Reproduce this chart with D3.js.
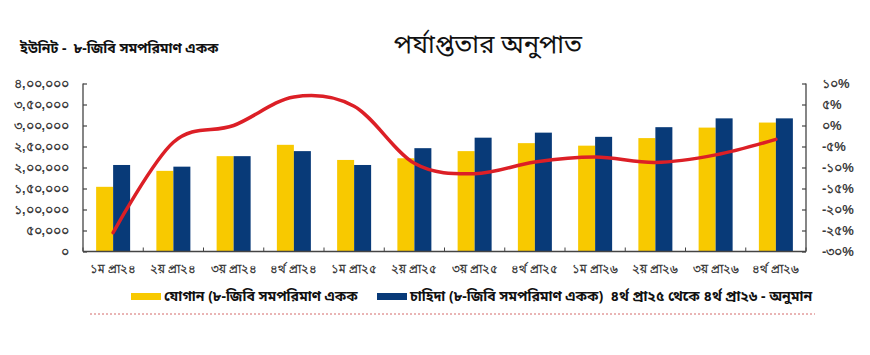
<!DOCTYPE html>
<html><head><meta charset="utf-8">
<script src="https://cdn.jsdelivr.net/npm/d3@7"></script>
<style>
body{margin:0;background:#fff;}
svg{display:block;font-family:"Noto Sans","Noto Sans Bengali","Lohit Bengali","DejaVu Sans",sans-serif;}
text{white-space:pre;}
</style></head>
<body><div id="chart"></div>
<script>
const categories = ["১ম প্রা২৪","২য় প্রা২৪","৩য় প্রা২৪","৪র্থ প্রা২৪","১ম প্রা২৫","২য় প্রা২৫","৩য় প্রা২৫","৪র্থ প্রা২৫","১ম প্রা২৬","২য় প্রা২৬","৩য় প্রা২৬","৪র্থ প্রা২৬"];
const supply = [154000,192000,227000,254000,218000,222000,239000,258000,252000,270000,295000,307000];
const demand = [206000,202000,227000,239000,206000,246000,271000,283000,273000,296000,317000,317000];
const ratio = [-25.5,-4,0,6.8,4.6,-9,-11.5,-8.7,-7.5,-8.8,-7,-3.3];
const leftTicks = [0,50000,100000,150000,200000,250000,300000,350000,400000];
const leftTickLabels = ["০","৫০,০০০","১,০০,০০০","১,৫০,০০০","২,০০,০০০","২,৫০,০০০","৩,০০,০০০","৩,৫০,০০০","৪,০০,০০০"];
const rightTicks = [-30,-25,-20,-15,-10,-5,0,5,10];
const rightTickLabels = ["-৩০%","-২৫%","-২০%","-১৫%","-১০%","-৫%","০%","৫%","১০%"];
const titleText = "পর্যাপ্ততার অনুপাত";
const unitText = "ইউনিট -  ৮-জিবি সমপরিমাণ একক";
const legendSupply = "যোগান (৮-জিবি সমপরিমাণ একক";
const legendDemand = "চাহিদা (৮-জিবি সমপরিমাণ একক)  ৪র্থ প্রা২৫ থেকে ৪র্থ প্রা২৬ - অনুমান";

const W = 870, H = 355;
const L = 83, R = 806, T = 83.5, B = 251.5;
const svg = d3.select("#chart").append("svg").attr("width", W).attr("height", H);

const x = d3.scaleBand().domain(categories).range([L, R]).paddingInner(0).paddingOuter(0);
const yL = d3.scaleLinear().domain([0, 400000]).range([B, T]);
const yR = d3.scaleLinear().domain([-30, 10]).range([B, T]);
const barW = 17;
const YEL = "#f8c900", NAVY = "#083a78", AX = "#444";

// bars
svg.append("g").selectAll("rect").data(supply).join("rect")
  .attr("x", (d,i) => x(categories[i]) + x.bandwidth()/2 - barW)
  .attr("y", d => yL(d)).attr("width", barW).attr("height", d => B - yL(d)).attr("fill", YEL);
svg.append("g").selectAll("rect").data(demand).join("rect")
  .attr("x", (d,i) => x(categories[i]) + x.bandwidth()/2)
  .attr("y", d => yL(d)).attr("width", barW).attr("height", d => B - yL(d)).attr("fill", NAVY);

// axes
const axL = svg.append("g").attr("transform", `translate(${L},0)`)
  .call(d3.axisLeft(yL).tickValues(leftTicks).tickSize(-4).tickPadding(14).tickFormat((d,i)=>leftTickLabels[i]));
const axR = svg.append("g").attr("transform", `translate(${R},0)`)
  .call(d3.axisRight(yR).tickValues(rightTicks).tickSize(-4).tickPadding(16).tickFormat((d,i)=>rightTickLabels[i]));
const axB = svg.append("g").attr("transform", `translate(0,${B})`)
  .call(d3.axisBottom(x).tickSize(0).tickPadding(13));
// category boundary ticks
svg.append("g").selectAll("line").data(d3.range(categories.length+1)).join("line")
  .attr("x1", i => L + i*x.bandwidth()).attr("x2", i => L + i*x.bandwidth())
  .attr("y1", B).attr("y2", B-4).attr("stroke", AX).attr("stroke-width", 1);
[axL, axR, axB].forEach(a => {
  a.select(".domain").attr("stroke", AX).attr("stroke-width", 1.3);
  a.selectAll(".tick line").attr("stroke", AX).attr("stroke-width", 1.2);
  a.selectAll("text").attr("fill", "#3a3a3a").style("font-weight", "600");
});
axL.select(".domain").attr("d", `M0,${T}V${B}`);
axR.select(".domain").attr("d", `M0,${T}V${B}`);
axB.select(".domain").attr("d", `M${L},0H${R}`);
axL.selectAll("text").style("font-size", "12.5px");
axR.selectAll("text").style("font-size", "13px");
axB.selectAll("text").style("font-size", "11.5px");

// ratio line
const line = d3.line().x((d,i) => x(categories[i]) + x.bandwidth()/2).y(d => yR(d)).curve(d3.curveCardinal.tension(0));
svg.append("path").datum(ratio).attr("d", line).attr("fill", "none")
  .attr("stroke", "#dc1f26").attr("stroke-width", 3.5).attr("stroke-linecap", "round");

// title & unit
svg.append("text").attr("x", 488).attr("y", 53).attr("text-anchor", "middle")
  .style("font-size", "25.5px").attr("fill", "#111").text(titleText);
svg.append("text").attr("x", 20).attr("y", 53)
  .style("font-size", "14px").style("font-weight", "700").attr("fill", "#111").text(unitText);

// legend
svg.append("rect").attr("x", 131).attr("y", 293).attr("width", 30).attr("height", 7).attr("fill", YEL);
svg.append("text").attr("x", 164).attr("y", 301).style("font-size", "14px").style("font-weight", "700").attr("fill", "#111").text(legendSupply);
svg.append("rect").attr("x", 377).attr("y", 293).attr("width", 30).attr("height", 7).attr("fill", NAVY);
svg.append("text").attr("x", 410).attr("y", 301).style("font-size", "14px").style("font-weight", "700").attr("fill", "#111").text(legendDemand);

// dotted separator
svg.append("line").attr("x1", 90).attr("x2", 815).attr("y1", 314).attr("y2", 314)
  .attr("stroke", "#d46a6a").attr("stroke-width", 1).attr("stroke-dasharray", "2,2");
</script></body></html>
